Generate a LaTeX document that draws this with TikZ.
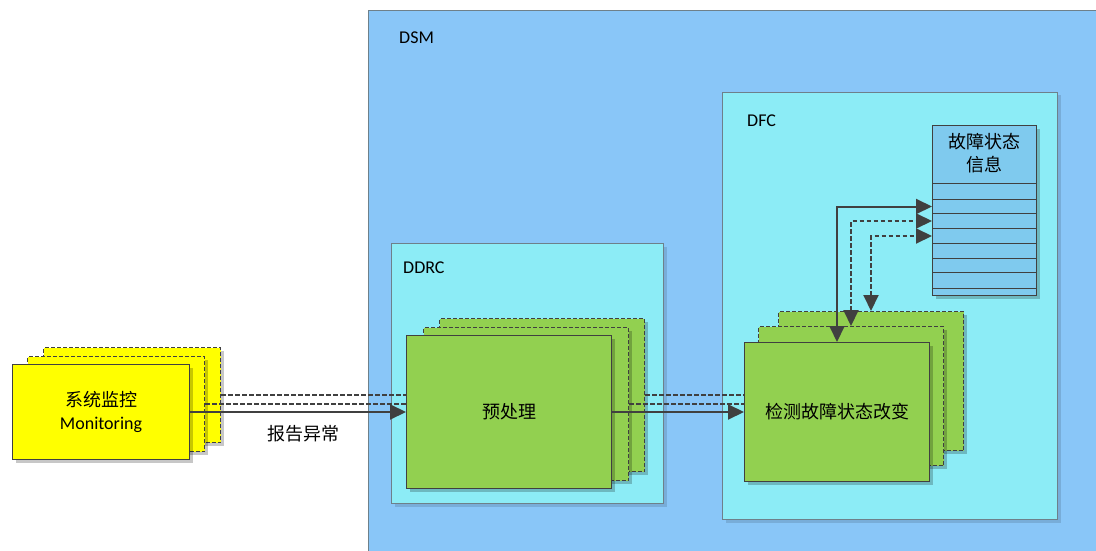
\documentclass[tikz,border=0pt]{standalone}
\usepackage{fontspec}
\setmainfont{Carlito}
\newfontfamily\cjk{Noto Sans CJK SC}
\usetikzlibrary{arrows.meta,shadows}
\definecolor{DsmClr}{RGB}{137,198,248}
\definecolor{InnerClr}{RGB}{140,236,246}
\definecolor{TaskClr}{RGB}{146,208,80}
\definecolor{MonClr}{RGB}{255,255,0}
\definecolor{InfoClr}{RGB}{127,202,238}
\definecolor{LineClr}{RGB}{64,64,64}
\definecolor{FrameClr}{RGB}{110,128,138}

\tikzset{
  frame/.style={draw=FrameClr,line width=1pt,anchor=north west,inner sep=0pt,
    drop shadow={shadow xshift=3pt,shadow yshift=-3pt,fill=black,opacity=.12}},
  card/.style={draw=LineClr,line width=1pt,anchor=north west,inner sep=0pt,align=center,
    drop shadow={shadow xshift=3pt,shadow yshift=-3pt,fill=black,opacity=.22}},
  ghost/.style={card,dash pattern=on 4pt off 2pt},
  lbl/.style={anchor=west,inner sep=0pt},
  monbox/.style={fill=MonClr,minimum width=177,minimum height=95},
  prebox/.style={fill=TaskClr,minimum width=205,minimum height=153},
  detbox/.style={fill=TaskClr,minimum width=185,minimum height=139},
  link/.style={draw=LineClr,line width=2pt},
  dlink/.style={link,dash pattern=on 4.5pt off 2.5pt},
  rowline/.style={draw=LineClr,line width=.9pt}
}

\begin{document}
\begin{tikzpicture}[x=1pt,y=-1pt,font=\fontsize{18}{23}\selectfont,>={Triangle[length=16pt,width=15pt]}]
\clip (0,0) rectangle (1096,551);

\node[frame,fill=DsmClr,minimum width=740,minimum height=560] (dsm) at (368,10) {};
\node[lbl] (dsmlbl) at (399,38) {DSM};

\node[frame,fill=InnerClr,minimum width=272,minimum height=260] (ddrc) at (391,243) {};
\node[lbl] (ddrclbl) at (403,268) {DDRC};

\node[frame,fill=InnerClr,minimum width=335,minimum height=427] (dfc) at (722,92) {};
\node[lbl] (dfclbl) at (747,121) {DFC};

\node[card,fill=InfoClr,minimum width=104,minimum height=170] (info) at (932,125) {};
\node[align=center] (infohead) at (984,153) {\cjk 故障状态\\\cjk 信息};
\foreach \y in {183.3,199.3,213.3,228.7,243.3,258,272.7,288.3}
  \draw[rowline] (932,\y) -- (1036,\y);
\coordinate (row2) at (932,206.5);
\coordinate (row3) at (932,221);
\coordinate (row4) at (932,236);

\node[ghost,monbox] (mon3) at (43,347) {};
\node[ghost,prebox] (pre3) at (439,318) {};
\node[ghost,detbox] (det3) at (778,311) {};
\draw[dlink,->] (mon3.east) -- (mon3.east -| pre3.west);
\draw[dlink,->] (pre3.east) -- (pre3.east -| det3.west);
\draw[dlink,<->] (det3.north) |- (row4);

\node[ghost,monbox] (mon2) at (27,356) {};
\node[ghost,prebox] (pre2) at (423,327) {};
\node[ghost,detbox] (det2) at (758,326) {};
\draw[dlink,->,shorten >=-3pt] (mon2.east) -- (mon2.east -| pre2.west);
\draw[dlink,->,shorten >=-3pt] (pre2.east) -- (pre2.east -| det2.west);
\draw[dlink,<->] (det2.north) |- (row3);

\node[card,monbox] (mon1) at (12,364) {{\cjk 系统监控}\\Monitoring};
\node[card,prebox] (pre1) at (406,335) {\cjk 预处理};
\node[card,detbox] (det1) at (744,342) {\cjk 检测故障状态改变};
\draw[link,->] (mon1.east) -- (mon1.east -| pre1.west)
  node[midway,below=9pt,xshift=5pt] (report) {\cjk 报告异常};
\draw[link,->] (pre1.east) -- (pre1.east -| det1.west);
\draw[link,<->] (det1.north) |- (row2);

\end{tikzpicture}
\end{document}
